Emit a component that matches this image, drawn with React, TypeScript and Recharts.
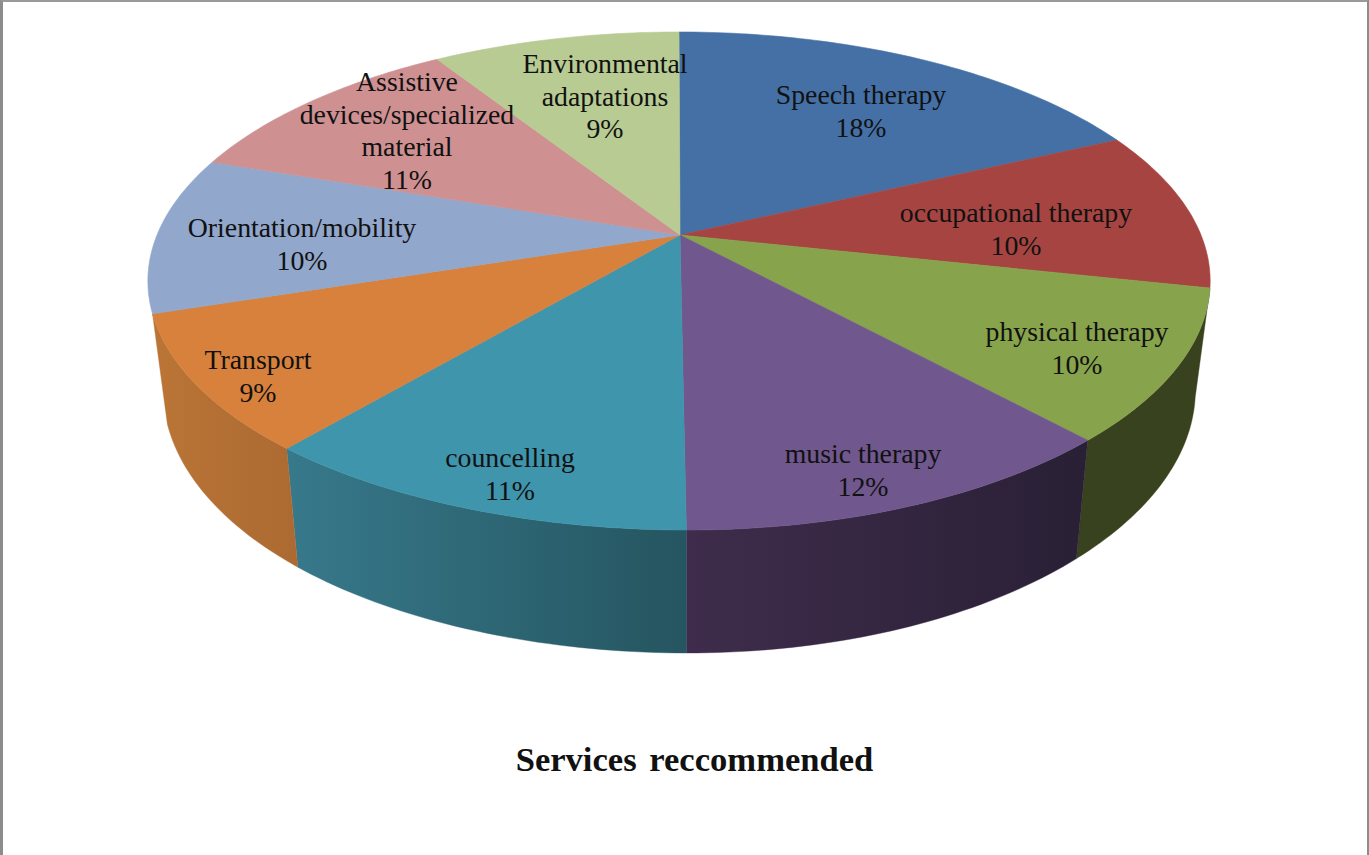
import { PieChart, Pie } from 'recharts'

const categories = [
  'Speech therapy',
  'occupational therapy',
  'physical therapy',
  'music therapy',
  'councelling',
  'Transport',
  'Orientation/mobility',
  'Assistive devices/specialized material',
  'Environmental adaptations',
]
const shares = [18, 10.4, 9.8, 11.8, 11.2, 8.8, 10.2, 10.8, 9]
const topColors = ['#4470A6', '#A64442', '#87A34C', '#70578D', '#3F95AC', '#D7813C', '#91A7CC', '#CE9090', '#B7CB93']
const sideLeftColors = ['#2b4566', '#672a29', '#38421e', '#3f2c4c', '#37798b', '#ba7536', '#58667d', '#7f5958', '#707c5b']
const sideRightColors = ['#2b4566', '#672a29', '#38421e', '#292035', '#255560', '#ac6a32', '#58667d', '#7f5958', '#707c5b']
const labelLines = [
  ['Speech therapy'],
  ['occupational therapy'],
  ['physical therapy'],
  ['music therapy'],
  ['councelling'],
  ['Transport'],
  ['Orientation/mobility'],
  ['Assistive', 'devices/specialized', 'material'],
  ['Environmental', 'adaptations'],
]
// centre of each label's first line, in px
const labelAnchors = [
  [861, 95],
  [1016, 213],
  [1077, 332],
  [863, 454],
  [510, 458],
  [258, 360],
  [302, 228],
  [407, 82],
  [605, 64],
]

const WIDTH = 1369
const HEIGHT = 855

const chartData = categories.map((name, i) => ({
  name,
  value: shares[i],
  fill: topColors[i],
  sideFill: `url(#side${i})`,
}))

// the pie is in perspective: the centre sits above the middle of the ellipse
function project(angle: number) {
  const t = (angle * Math.PI) / 180
  const u = Math.cos(t)
  const v = -Math.sin(t)
  const d = 1 - 0.1847 * v
  const front = 6 * Math.pow(Math.max(v, 0), 8)
  return {
    x: 679 + (522 * u + front) / d,
    y: (197.1 * v + 235) / d,
    v,
  }
}

function lower(p: { x: number; y: number; v: number }) {
  return { x: 685 + 0.972 * (p.x - 685), y: p.y + 105 + 18 * p.v }
}

function arcPoints(start: number, end: number) {
  const steps = Math.max(2, Math.ceil(Math.abs(start - end)))
  const pts = []
  for (let i = 0; i <= steps; i++) pts.push(project(start + ((end - start) * i) / steps))
  return pts
}

const toPath = (pts: { x: number; y: number }[]) =>
  pts.map((p, i) => `${i ? 'L' : 'M'}${p.x.toFixed(2)} ${p.y.toFixed(2)}`).join(' ')

function TopSlice(props: any) {
  const arc = arcPoints(props.startAngle, props.endAngle)
  return (
    <path
      d={`${toPath([{ x: props.cx, y: props.cy }, ...arc])} Z`}
      fill={props.fill}
      stroke={props.fill}
      strokeWidth={0.6}
    />
  )
}

// only the wall between these angles can be seen, the rest is behind the top
const WALL_FROM = -12.3
const WALL_TO = -162

function WallSlice(props: any) {
  const start = Math.min(props.startAngle, WALL_FROM)
  const end = Math.max(props.endAngle, WALL_TO)
  if (start <= end) return <g />
  const arc = arcPoints(start, end)
  const under = arc.map(lower).reverse()
  const sideFill = props.sideFill ?? props.payload?.sideFill
  return <path d={`${toPath([...arc, ...under])} Z`} fill={sideFill} stroke={sideFill} strokeWidth={0.4} />
}

function SliceLabel(props: any) {
  const i = props.index
  const [x, y] = labelAnchors[i]
  const rows = [...labelLines[i], `${Math.round(shares[i])}%`]
  return (
    <text
      x={x}
      y={y + 9}
      textAnchor="middle"
      fontFamily="'Liberation Serif', serif"
      fontSize={27.8}
      fill="#111"
    >
      {rows.map((row, r) => (
        <tspan key={r} x={x} y={y + 9 + r * 32.5}>
          {row}
        </tspan>
      ))}
    </text>
  )
}

export default function App() {
  return (
    <div
      style={{
        position: 'absolute',
        left: 0,
        top: 0,
        width: WIDTH,
        height: HEIGHT,
        boxSizing: 'border-box',
        background: '#fff',
        borderLeft: '3px solid #8c8c8c',
        borderTop: '2px solid #999',
        borderRight: '2px solid #8c8c8c',
      }}
    >
      <div style={{ position: 'absolute', left: -3, top: -2 }}>
        <PieChart width={WIDTH} height={HEIGHT} margin={{ top: 0, right: 0, bottom: 0, left: 0 }}>
          <defs>
            {categories.map((_, i) => (
              <linearGradient key={i} id={`side${i}`} x1="0" y1="0" x2="1" y2="0">
                <stop offset="0%" stopColor={sideLeftColors[i]} />
                <stop offset="100%" stopColor={sideRightColors[i]} />
              </linearGradient>
            ))}
          </defs>
          <Pie
            data={chartData}
            dataKey="value"
            nameKey="name"
            cx={680}
            cy={235}
            outerRadius={100}
            startAngle={90}
            endAngle={-270}
            shape={WallSlice}
            isAnimationActive={false}
            legendType="none"
          />
          <Pie
            data={chartData}
            dataKey="value"
            nameKey="name"
            cx={680}
            cy={235}
            outerRadius={100}
            startAngle={90}
            endAngle={-270}
            shape={TopSlice}
            label={SliceLabel}
            labelLine={false}
            isAnimationActive={false}
            legendType="none"
          />
          <text
            x={694.5}
            y={771}
            textAnchor="middle"
            fontFamily="'Liberation Serif', serif"
            fontSize={34.6}
            fontWeight="bold"
            wordSpacing={4}
            fill="#111"
          >
            Services reccommended
          </text>
        </PieChart>
      </div>
    </div>
  )
}
